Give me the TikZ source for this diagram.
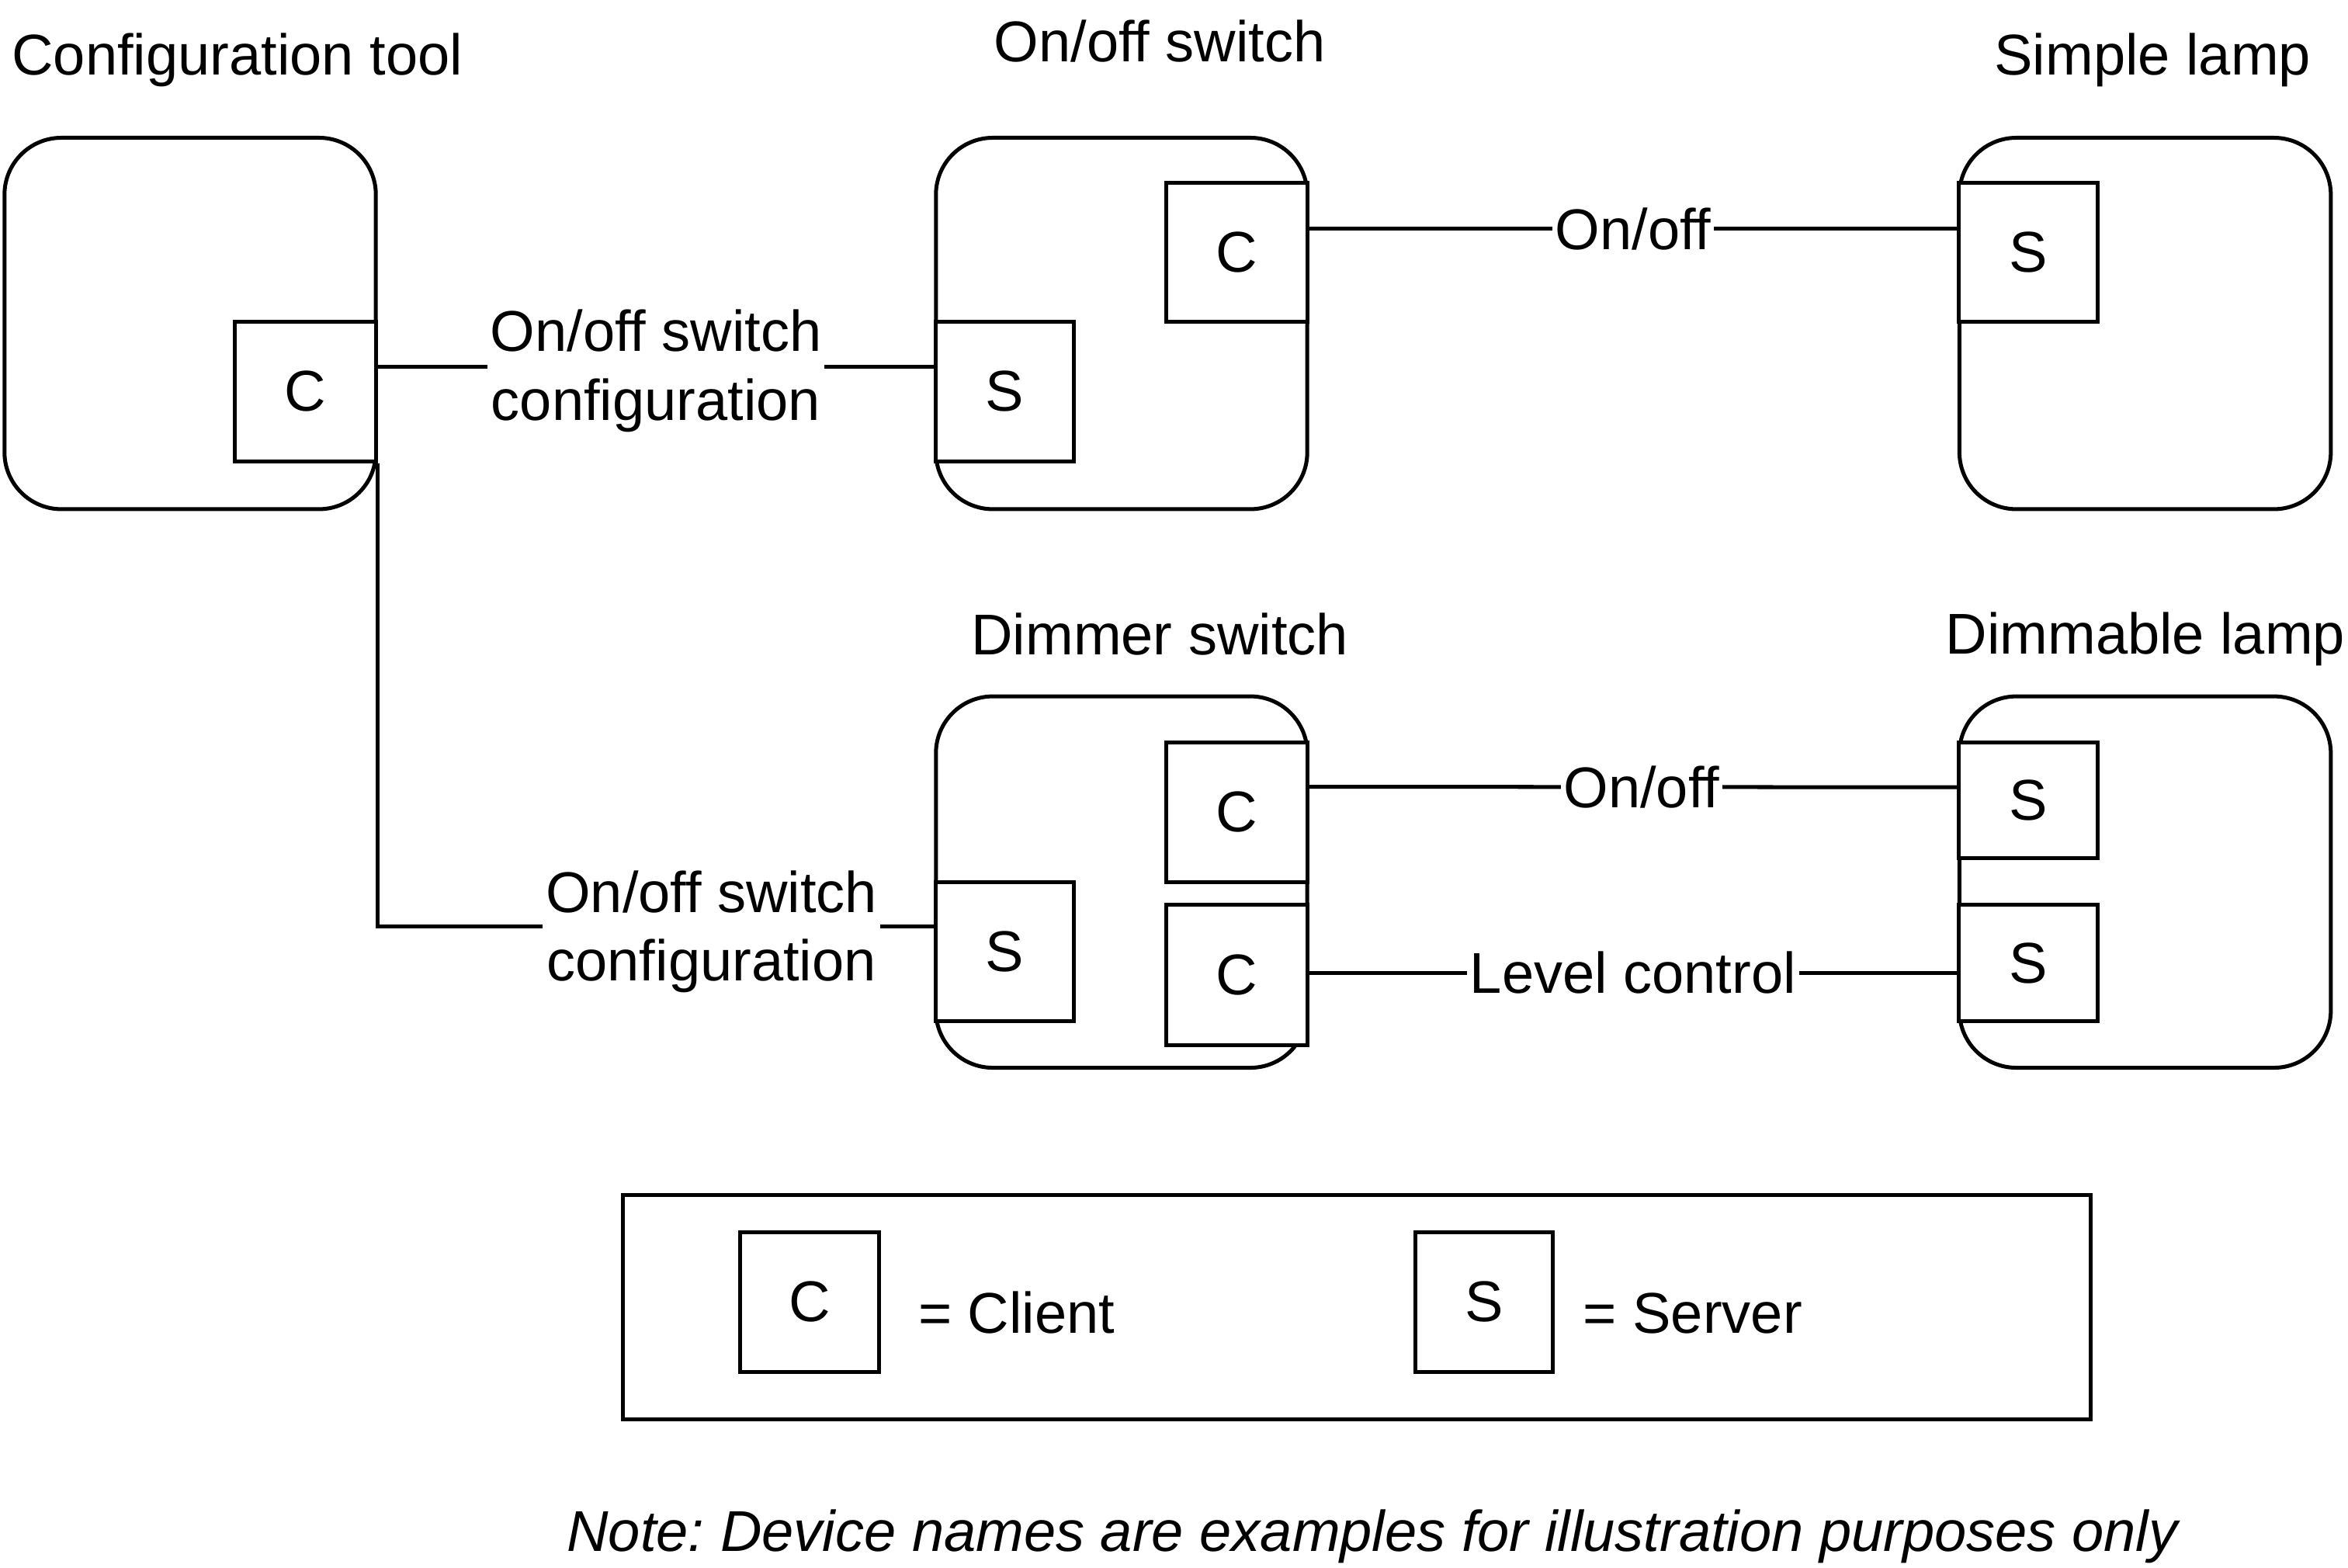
\documentclass[tikz,border=0pt]{standalone}
\usepackage{fontspec}
\setmainfont{Liberation Sans}
\usetikzlibrary{calc}
\begin{document}
\frenchspacing
\begin{tikzpicture}[x=1pt,y=-1pt,line width=2.6pt,
  every node/.style={font=\fontsize{38.4}{45.7}\selectfont},
  dev/.style={draw,rounded corners=38pt,minimum width=248pt,minimum height=248pt,inner sep=0pt},
  port/.style={draw,fill=white,inner sep=0pt,minimum width=94pt,minimum height=93pt},
  lbl/.style={fill=white,inner xsep=2pt,inner ysep=0pt},
  ttl/.style={anchor=base,inner sep=0pt}]
\useasboundingbox (0,0) rectangle (1568,1046.55);

% device boxes
\node[dev] (cfg) at (127,216) {};
\node[dev] (onoff) at (749,216) {};
\node[dev] (lamp) at (1432.5,216) {};
\node[dev] (dimmer) at (749,589) {};
\node[dev] (dlamp) at (1432.5,589) {};

% titles
\node[ttl] (tcfg) at (158.5,49.8) {Configuration tool};
\node[ttl] (tonoff) at (774.5,41) {On/off switch};
\node[ttl] (tlamp) at (1437.5,49.8) {Simple lamp};
\node[ttl] (tdimmer) at (774.5,437) {Dimmer switch};
\node[ttl,anchor=base west] (tdlamp) at (1298,436.7) {Dimmable lamp};

% ports
\node[port] (cfgC) at (204,261.5) {C};
\node[port] (onC) at (826,168.5) {C};
\node[port,minimum width=92pt] (onS) at (671,261.5) {S};
\node[port,minimum width=93pt] (lampS) at (1354.5,168.5) {S};
\node[port,minimum height=93.3pt] (dimC1) at (826,542.3) {C};
\node[port,minimum height=94pt] (dimC2) at (826,651) {C};
\node[port,minimum width=92pt] (dimS) at (671,635.5) {S};
\node[port,minimum width=93pt,minimum height=77pt] (dlS1) at (1354.5,534.5) {S};
\node[port,minimum width=93pt,minimum height=78pt] (dlS2) at (1354.5,643) {S};

% connectors
\draw ($(cfgC.north east)+(0,31)$) -- node[lbl,align=center,yshift=-3pt] (l1) {On/off switch\\configuration} ($(onS.north west)+(0,31)$);
\draw (cfgC.south east) |- node[lbl,align=center,pos=0.8,yshift=-3.5pt] (l2) {On/off switch\\configuration} ($(dimS.north west)+(0,31)$);
\draw ($(onC.north east)+(0,32)$) -- node[lbl] (l3) {On/off} ($(lampS.north west)+(0,32)$);
\draw ($(dimC1.north east)+(0,31)$) -- node[lbl,pos=0.513] (l4) {On/off} ($(dlS1.north west)+(0,31)$);
\draw ($(dimC2.north east)+(0,47)$) -- node[lbl] (l5) {Level control} ($(dlS2.north west)+(0,47)$);

% legend
\node[draw,minimum width=980pt,minimum height=150pt,inner sep=0pt] (legend) at (906,873) {};
\node[port,minimum width=93pt] (legC) at (540.5,869.5) {C};
\node[port,minimum width=92pt] (legS) at (991,869.5) {S};
\node[ttl,anchor=base west] (legCt) at (612,890) {= Client};
\node[ttl,anchor=base west] (legSt) at (1056,890) {= Server};

% note
\node[ttl] (note) at (916.5,1036) {\itshape Note: Device names are examples for illustration purposes only};
\end{tikzpicture}
\end{document}
